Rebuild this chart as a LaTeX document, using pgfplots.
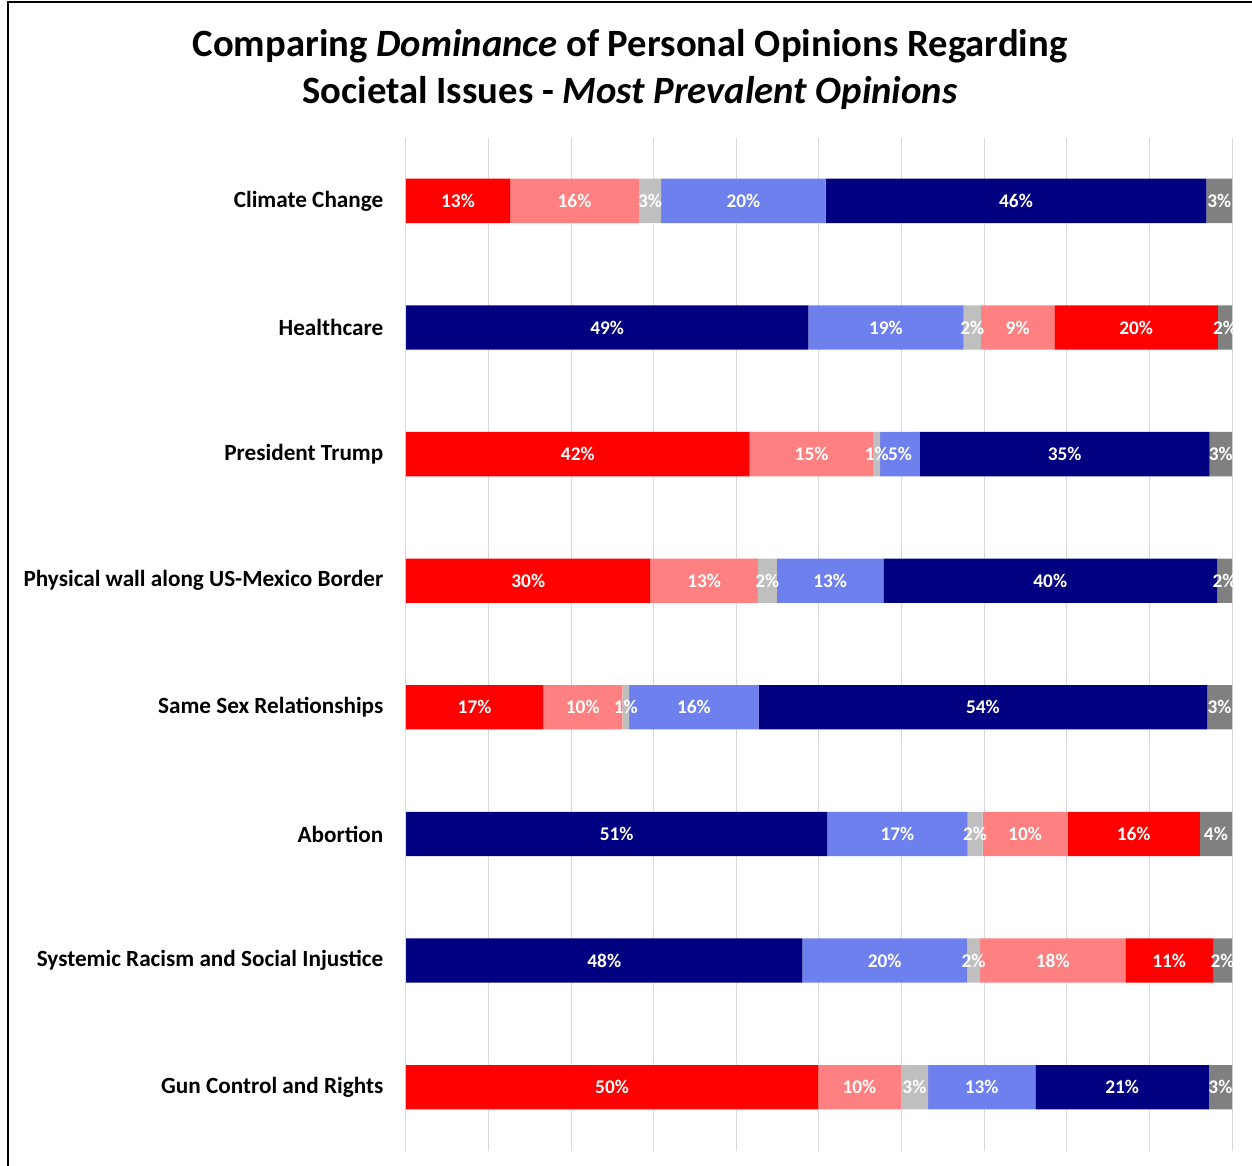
\documentclass[border=0pt]{standalone}
\usepackage{pgfplots}
\pgfplotsset{compat=1.18}
\usepackage{pgfplotstable}
\usepackage{fontspec}
\setmainfont{Carlito}

\definecolor{cRed}{HTML}{FF0000}
\definecolor{cPink}{HTML}{FF8080}
\definecolor{cLGray}{HTML}{BFBFBF}
\definecolor{cLBlue}{HTML}{6E80EE}
\definecolor{cNavy}{HTML}{000080}
\definecolor{cGray}{HTML}{808080}
\definecolor{cGrid}{HTML}{D9D9D9}

% order: red, pink, light gray, light blue, navy, gray
\pgfplotstableread{
pos s1 s2 s3 s4 s5 s6
0 12.6 15.6 2.7 19.9 46.1 3.1
2 41.6 15.0 0.8 4.8 35.1 2.7
3 29.6 13.0 2.3 12.9 40.4 1.8
4 16.6 9.6 0.8 15.7 54.3 3.0
7 49.9 10.0 3.3 13.0 21.0 2.8
}\groupA
% order: navy, light blue, light gray, pink, red, gray
\pgfplotstableread{
pos s1 s2 s3 s4 s5 s6
1 48.7 18.8 2.1 8.9 19.8 1.7
5 51.0 17.0 1.8 10.3 16.0 3.9
6 48.0 19.9 1.6 17.6 10.6 2.3
}\groupB

\newcommand{\seg}[3]{\addplot[fill=#1, draw=none] table[x=#2, y=pos, meta=#2] {#3};}

\pgfplotsset{
  base/.style={
    scale only axis, width=82.6mm, height=101.3mm,
    at={(40.6mm,-115.05mm)}, anchor=south west,
    xbar stacked, bar width=0.35,
    xmin=0, xmax=100, ymin=-0.5, ymax=7.5, y dir=reverse,
    axis line style={draw=none}, major tick length=0pt,
    xtick={0,10,...,100}, xticklabels={},
    point meta=explicit,
    nodes near coords={\pgfmathprintnumber[fixed,precision=0]{\pgfplotspointmeta}\%},
    /pgf/number format/assume math mode=true,
    every node near coord/.append style={font=\bfseries\fontsize{5.5}{6}\selectfont, color=white, anchor=center, inner sep=0pt},
  },
}

\begin{document}
\begin{tikzpicture}
\path[use as bounding box] (0,0) rectangle (125.2mm,-116.6mm);
\draw[line width=0.2mm] (0.8mm,-116.6mm) -- (0.8mm,-0.25mm) -- (125.2mm,-0.25mm);

\begin{axis}[base, xmajorgrids, major grid style={cGrid, line width=0.1mm},
  ytick={0,...,7},
  yticklabels={Climate Change, Healthcare, President Trump, Physical wall along US-Mexico Border, Same Sex Relationships, Abortion, Systemic Racism and Social Injustice, Gun Control and Rights},
  yticklabel style={font=\bfseries\fontsize{6.6}{8}\selectfont, anchor=east, inner sep=0pt, xshift=-2.2mm}]
  \seg{cRed}{s1}{\groupA}
  \seg{cPink}{s2}{\groupA}
  \seg{cLGray}{s3}{\groupA}
  \seg{cLBlue}{s4}{\groupA}
  \seg{cNavy}{s5}{\groupA}
  \seg{cGray}{s6}{\groupA}
\end{axis}

\begin{axis}[base, ytick=\empty]
  \seg{cNavy}{s1}{\groupB}
  \seg{cLBlue}{s2}{\groupB}
  \seg{cLGray}{s3}{\groupB}
  \seg{cPink}{s4}{\groupB}
  \seg{cRed}{s5}{\groupB}
  \seg{cGray}{s6}{\groupB}
\end{axis}

\node[font=\bfseries\fontsize{11}{13}\selectfont] at (63mm,-4.6mm) {Comparing \textit{Dominance} of Personal Opinions Regarding};
\node[font=\bfseries\fontsize{11}{13}\selectfont] at (63mm,-9.3mm) {Societal Issues - \textit{Most Prevalent Opinions}};
\end{tikzpicture}
\end{document}
